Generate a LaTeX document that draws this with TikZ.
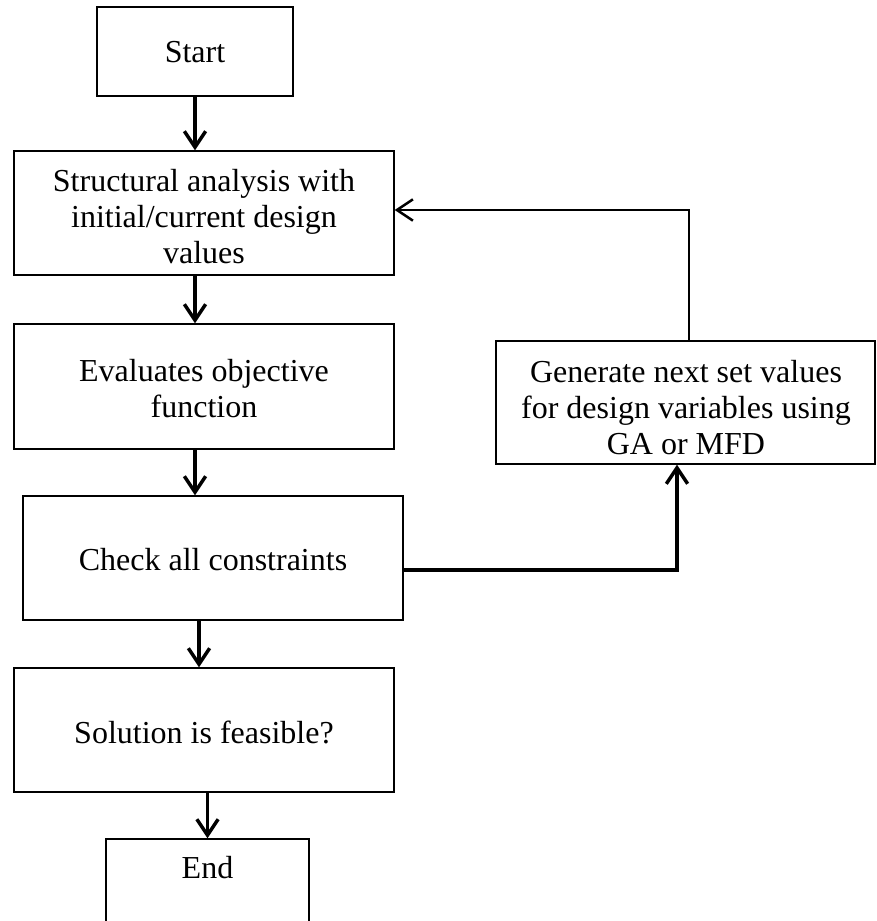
\documentclass[tikz,border=0pt]{standalone}
\usepackage{fontspec}
\setmainfont{Liberation Serif}
\usetikzlibrary{arrows.meta}
\begin{document}
\begin{tikzpicture}[x=0.75pt,y=-0.75pt,
  box/.style={draw=black, line width=1pt, inner sep=0pt, rectangle},
  lbl/.style={align=center, font=\fontsize{24}{27}\selectfont, inner sep=0pt},
  flow/.style={line width=2.6pt, -{Straight Barb[length=12pt,width=16pt]}},
  back/.style={line width=1.9pt, -{Straight Barb[length=12pt,width=16pt]}}]
\clip (0,0) rectangle (876,921);
% boxes
\node[box, minimum width=147pt, minimum height=66.75pt] (s) at (195,51.5) {};
\node[box, minimum width=285pt, minimum height=93pt] (b2) at (204,213) {};
\node[box, minimum width=285pt, minimum height=93.75pt] (b3) at (204,386.5) {};
\node[box, minimum width=285pt, minimum height=93pt] (b4) at (213,558) {};
\node[box, minimum width=285pt, minimum height=93pt] (b5) at (204,730) {};
\node[box, minimum width=152.25pt, minimum height=93pt] (e) at (207.5,901) {};
\node[box, minimum width=284.25pt, minimum height=92.25pt] (rb) at (685.5,402.5) {};
% texts
\node[lbl] (st) at (195,52) {Start};
\node[lbl] (b2t) at (204,217) {Structural analysis with\\initial/current design\\values};
\node[lbl] (b3t) at (204,389) {Evaluates objective\\function};
\node[lbl] (b4t) at (213,560) {Check all constraints};
\node[lbl] (b5t) at (204,732) {Solution is feasible?};
\node[lbl] (et) at (207.5,868) {End};
\node[lbl] (rbt) at (686,408) {Generate next set values\\for design variables using\\GA or MFD};
% connectors
\draw[flow] (s.south) -- (s.south |- b2.north);
\draw[flow] ([xshift=-6.75pt]b2.south) -- ([xshift=-6.75pt]b2.south |- b3.north);
\draw[flow] ([xshift=-6.75pt]b3.south) -- ([xshift=-6.75pt]b3.south |- b4.north);
\draw[flow] ([xshift=-10.5pt]b4.south) -- ([xshift=-10.5pt]b4.south |- b5.north);
\draw[flow] (e.north |- b5.south) -- (e.north);
\coordinate (rbin) at ([xshift=-6.4pt]rb.south);
\coordinate (rbout) at ([xshift=2.6pt]rb.north);
\draw[flow] ([yshift=-9pt]b4.east) -| (rbin);
\draw[back] (rbout) |- ([yshift=2.25pt]b2.east);
\end{tikzpicture}
\end{document}
